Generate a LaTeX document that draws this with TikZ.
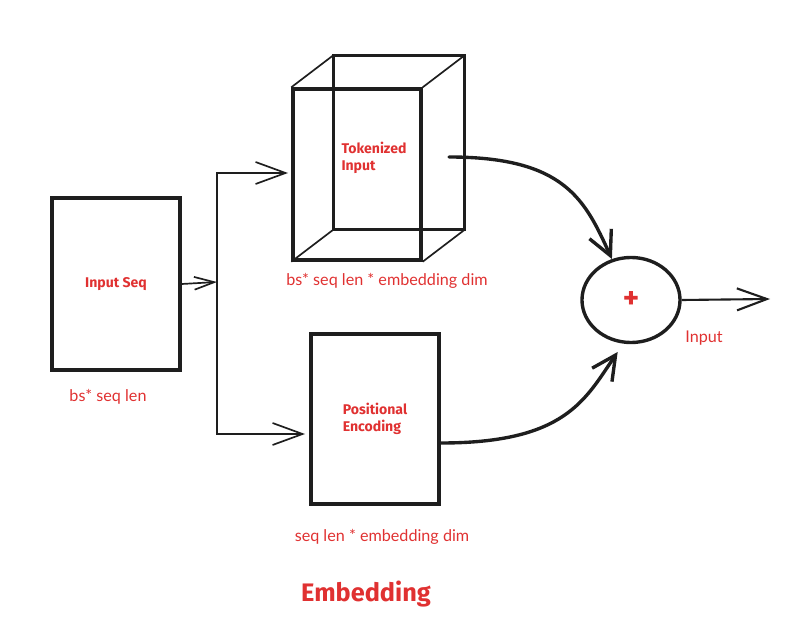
\documentclass[tikz,border=0pt]{standalone}
\usepackage{fontspec}
\setmainfont{Lato}
\newfontfamily\headfont{Fira Sans}
\usetikzlibrary{arrows.meta,shapes.geometric}
\definecolor{exred}{HTML}{E03131}
\definecolor{exink}{HTML}{1E1E1E}

\begin{document}
\begin{tikzpicture}[x=0.025cm,y=-0.025cm,
    seqbox/.style={draw=exink,line width=2.4pt,minimum width=3.2cm,inner sep=0pt},
    boxtext/.style={text=exred,font=\headfont\bfseries\fontsize{10}{12.5}\selectfont,align=left},
    dimtext/.style={text=exred,font=\fontsize{11.5}{13}\selectfont},
    link/.style={draw=exink,line width=1.2pt,-{Straight Barb[length=7.5mm,width=5.5mm]}},
    flow/.style={draw=exink,line width=2.4pt,line cap=round,-{Straight Barb[length=6mm,width=6mm]}}]
  \useasboundingbox (0,0) rectangle (808,642);

  \node[seqbox,boxtext,minimum height=4.3cm] (inseq) at (116,284) {Input Seq};
  \node[dimtext] (inseqdim) at (108,397) {bs* seq len};

  \node[seqbox,minimum height=4.275cm] (tok) at (357,174.5) {};
  \draw[exink,line width=2.2pt] ([shift={(42,-32)}]tok.north west) rectangle ([shift={(42,-32)}]tok.south east);
  \foreach \c in {north west,north east,south west,south east}
    \draw[exink,line width=1.2pt] (tok.\c) -- ([shift={(42,-32)}]tok.\c);
  \node[boxtext] (toktext) at (374,158) {Tokenized\\Input};
  \node[dimtext] (tokdim) at (387,281) {bs* seq len * embedding dim};

  \node[seqbox,boxtext,minimum height=4.25cm] (pos) at (375,419) {Positional\\Encoding};
  \node[dimtext] (posdim) at (382,537) {seq len * embedding dim};

  \node[ellipse,draw=exink,line width=2.4pt,minimum width=2.45cm,minimum height=2.125cm,
        text=exred,font=\headfont\bfseries\fontsize{22}{24}\selectfont] (plus) at (631,300) {+};
  \node[dimtext] (sumlab) at (704,338) {Input};

  \node[text=exred,font=\headfont\bfseries\fontsize{18}{22}\selectfont] (title) at (366,594) {Embedding};

  \coordinate (fork) at (217,282);
  \coordinate (tokin) at (288,173);
  \coordinate (posin) at (305,434);
  \coordinate (tokout) at (449,157);
  \coordinate (posout) at (441,443);
  \coordinate (outend) at (770,299);

  \draw[link,-{Straight Barb[length=5mm,width=3.2mm]}] (inseq.east) -- (fork);
  \draw[link] (fork) |- (tokin);
  \draw[link] (fork) |- (posin);
  \draw[flow] (tokout) .. controls (565,157) and (585,200) .. (plus.115);
  \draw[flow,shorten >=2.5mm] (posout) .. controls (565,443) and (585,400) .. (plus.260);
  \draw[link,line width=1.5pt] (plus.east) -- (outend);
\end{tikzpicture}
\end{document}
